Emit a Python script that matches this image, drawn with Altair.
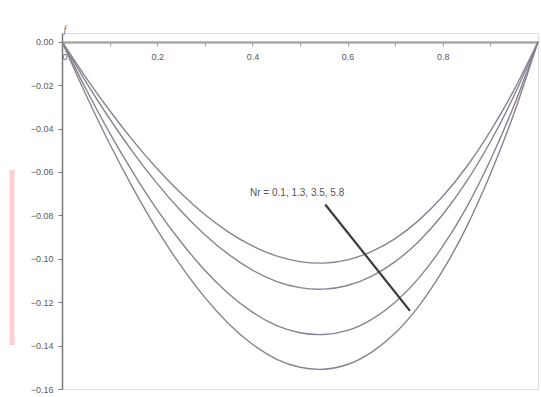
import altair as alt
import pandas as pd

eta = [0.0, 0.05, 0.10, 0.15, 0.20, 0.25, 0.30, 0.35, 0.40, 0.45, 0.50,
       0.55, 0.60, 0.65, 0.70, 0.75, 0.80, 0.85, 0.90, 0.95, 1.0]
curve1 = [0, -0.0164, -0.0317, -0.0458, -0.0585, -0.0698, -0.0796, -0.0877, -0.0941, -0.0987, -0.1013,
          -0.1020, -0.1005, -0.0967, -0.0907, -0.0822, -0.0712, -0.0576, -0.0412, -0.0221, 0]
curve2 = [0, -0.0184, -0.0355, -0.0512, -0.0654, -0.0780, -0.0889, -0.0980, -0.1052, -0.1104, -0.1133,
          -0.1140, -0.1123, -0.1081, -0.1013, -0.0919, -0.0796, -0.0644, -0.0461, -0.0247, 0]
curve3 = [0, -0.0217, -0.0420, -0.0606, -0.0775, -0.0923, -0.1053, -0.1161, -0.1246, -0.1307, -0.1341,
          -0.1349, -0.1330, -0.1280, -0.1200, -0.1088, -0.0942, -0.0763, -0.0545, -0.0292, 0]
curve4 = [0, -0.0243, -0.0470, -0.0678, -0.0867, -0.1033, -0.1178, -0.1299, -0.1394, -0.1462, -0.1500,
          -0.1509, -0.1487, -0.1431, -0.1342, -0.1217, -0.1054, -0.0853, -0.0610, -0.0327, 0]

x_ticks = [0, 0.1, 0.2, 0.3, 0.4, 0.5, 0.6, 0.7, 0.8, 0.9]
y_ticks = [0, -0.01, -0.02, -0.03, -0.04, -0.05, -0.06, -0.07, -0.08, -0.09, -0.10,
           -0.11, -0.12, -0.13, -0.14, -0.15, -0.16]

annot_text = ["Nr = 0.1, 1.3, 3.5, 5.8"]
annot_pos = [0.494, -0.0695]
arrow_start = [0.553, -0.0750]
arrow_end = [0.731, -0.124]
ylabel = ["f"]

rows = []
for name, vals in [("c1", curve1), ("c2", curve2), ("c3", curve3), ("c4", curve4)]:
    for e, v in zip(eta, vals):
        rows.append({"eta": e, "f": v, "curve": name})
df = pd.DataFrame(rows)

W, H = 476, 356
xs = alt.Scale(domain=[0, 1], nice=False, zero=False)
ys = alt.Scale(domain=[-0.16, 0.004], nice=False, zero=False)

lines = alt.Chart(df).mark_line(color="#8a8290", strokeWidth=1.4, interpolate="natural").encode(
    x=alt.X("eta:Q", scale=xs, axis=alt.Axis(
        orient="bottom", offset=-347, values=x_ticks, title=None, grid=False,
        labelExpr="(abs(datum.value*10 % 2) < 0.01 || abs(datum.value*10 % 2 - 2) < 0.01) ? (datum.value == 0 ? '0' : format(datum.value, '.1f')) : ''",
        domainColor="#a8a8a8", domainWidth=2.5, tickColor="#9a9a9a", tickSize=4,
        labelFontSize=9, labelColor="#5a5a5a", labelPadding=6, labelFont="Liberation Sans")),
    y=alt.Y("f:Q", scale=ys, axis=alt.Axis(
        values=y_ticks, title=None, grid=False,
        labelExpr="(round(abs(datum.value)*100) % 2 == 0) ? format(datum.value, '.2f') : ''",
        domainColor="#7a7a7a", domainWidth=1.5, tickColor="#7a7a7a", tickSize=4,
        labelFontSize=9, labelColor="#5a5a5a", labelPadding=5, labelFont="Liberation Sans")),
    detail="curve:N",
)

arrow = alt.Chart(pd.DataFrame({
    "x": [arrow_start[0]], "y": [arrow_start[1]], "x2": [arrow_end[0]], "y2": [arrow_end[1]]
})).mark_rule(color="#3a3a3a", strokeWidth=2.2).encode(
    x=alt.X("x:Q", scale=xs), y=alt.Y("y:Q", scale=ys), x2="x2:Q", y2="y2:Q")

label = alt.Chart(pd.DataFrame({"x": [annot_pos[0]], "y": [annot_pos[1]], "t": annot_text})).mark_text(
    fontSize=10, color="#555555", font="Liberation Sans").encode(
    x=alt.X("x:Q", scale=xs), y=alt.Y("y:Q", scale=ys), text="t:N")

ftitle = alt.Chart(pd.DataFrame({"x": [0.0], "y": [0.004], "t": ylabel})).mark_text(
    fontSize=10, color="#666666", dx=3, dy=-3, font="Liberation Serif", fontStyle="italic").encode(
    x=alt.X("x:Q", scale=xs), y=alt.Y("y:Q", scale=ys), text="t:N")

pink = alt.Chart(pd.DataFrame({"a": [0]})).mark_rule(color="#ffcfcf", strokeWidth=5).encode(
    x=alt.value(-50), y=alt.value(137), y2=alt.value(312))

chart = alt.layer(lines, arrow, label, ftitle, pink).properties(
    width=W, height=H,
    autosize=alt.AutoSizeParams(type="none"),
    padding={"left": 62, "top": 33, "right": 3, "bottom": 8},
).configure_view(stroke=None).configure(background="white")

chart.save("out.html", embed_options={"renderer": "svg", "actions": False})
